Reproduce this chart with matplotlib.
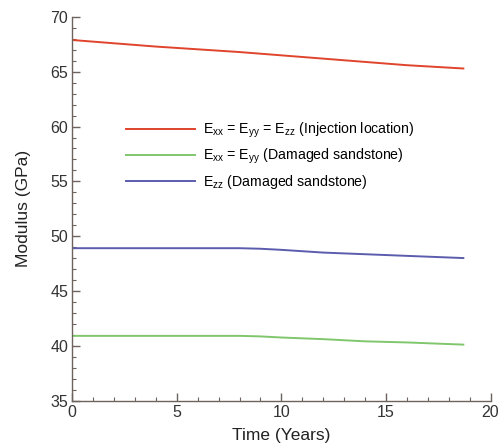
import matplotlib
matplotlib.use('Agg')
import matplotlib.pyplot as plt
from matplotlib.ticker import MultipleLocator

plt.rcParams['font.family'] = ['Liberation Sans', 'DejaVu Sans']
plt.rcParams['mathtext.fontset'] = 'custom'
plt.rcParams['mathtext.rm'] = 'Liberation Sans'

# -- data --
time_yr = [0, 2, 4, 6, 8, 9, 10, 12, 14, 16, 18.7]
e_inj = [67.9, 67.6, 67.3, 67.05, 66.8, 66.65, 66.5, 66.2, 65.9, 65.6, 65.3]
e_xy_dmg = [40.9, 40.9, 40.9, 40.9, 40.9, 40.85, 40.75, 40.6, 40.4, 40.3, 40.1]
e_zz_dmg = [48.9, 48.9, 48.9, 48.9, 48.9, 48.85, 48.75, 48.5, 48.35, 48.2, 48.0]

labels = [r'E$_{\mathregular{xx}}$ = E$_{\mathregular{yy}}$ = E$_{\mathregular{zz}}$ (Injection location)',
          r'E$_{\mathregular{xx}}$ = E$_{\mathregular{yy}}$ (Damaged sandstone)',
          r'E$_{\mathregular{zz}}$ (Damaged sandstone)']
colors = ['#e0442c', '#80c66c', '#5c5cae']

fig = plt.figure(figsize=(4.98, 4.47), dpi=100)
ax = fig.add_axes([0.145, 0.104, 0.840, 0.858])

ax.plot(time_yr, e_inj, color=colors[0], lw=1.4, label=labels[0])
ax.plot(time_yr, e_xy_dmg, color=colors[1], lw=1.4, label=labels[1])
ax.plot(time_yr, e_zz_dmg, color=colors[2], lw=1.4, label=labels[2])

ax.set_xlim(0, 20)
ax.set_ylim(35, 70)
ax.xaxis.set_major_locator(MultipleLocator(5))
ax.xaxis.set_minor_locator(MultipleLocator(1))
ax.yaxis.set_major_locator(MultipleLocator(5))
ax.yaxis.set_minor_locator(MultipleLocator(1))

spine_c = '#6e625c'
for s in ['top', 'right']:
    ax.spines[s].set_visible(False)
for s in ['left', 'bottom']:
    ax.spines[s].set_color(spine_c)
    ax.spines[s].set_linewidth(1.0)
ax.tick_params(which='major', direction='in', length=6, width=1.0, color=spine_c,
               labelsize=11.5, labelcolor='#333333', pad=3)
ax.tick_params(which='minor', direction='in', length=3, width=0.8, color=spine_c)

ax.set_xlabel('Time (Years)', fontsize=12.5, labelpad=6, color='#222222')
ax.set_ylabel('Modulus (GPa)', fontsize=12.5, labelpad=14, color='#222222')

ax.legend(loc='upper left', bbox_to_anchor=(0.097, 0.763), frameon=False, fontsize=10.2,
          handlelength=4.9, handletextpad=0.55, labelspacing=0.5)

fig.savefig('out.png', dpi=100)
